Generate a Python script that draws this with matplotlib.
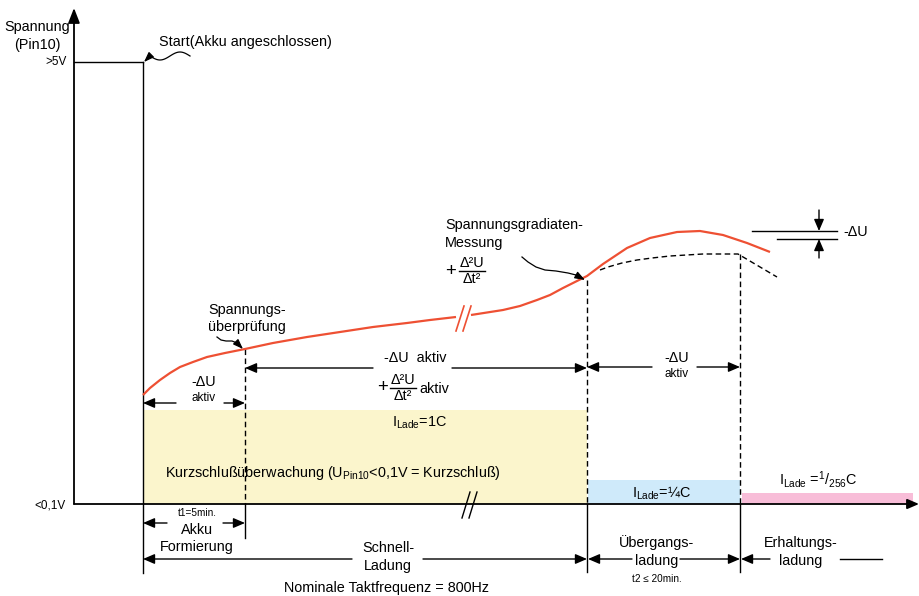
import matplotlib
matplotlib.use("Agg")
import matplotlib.pyplot as plt
import numpy as np

plt.rcParams['font.family'] = ['Liberation Sans', 'DejaVu Sans']
plt.rcParams['mathtext.fontset'] = 'custom'
plt.rcParams['mathtext.rm'] = 'Liberation Sans'
plt.rcParams['mathtext.it'] = 'Liberation Sans:italic'
plt.rcParams['mathtext.bf'] = 'Liberation Sans:bold'

# ---- data (diagram coordinates, x to the right, y downward) ----
# phase boundaries (time axis)
t_start, t_form, t_fast, t_trans, t_end = 143, 245, 587, 740, 913
axis_x0, axis_y0 = 74, 504
level_5v = 62

# charging voltage curve (red), split by a break mark
curve1_x = [143, 150, 160, 170, 180, 193, 207, 225, 245, 273, 307, 340, 373, 407, 430, 456]
curve1_y = [395, 388, 380, 373, 367, 362, 357, 353, 349, 343, 337, 332, 327, 323, 320, 317]
curve2_x = [471, 503, 520, 537, 550, 563, 575, 587, 603, 627, 650, 677, 700, 723, 747, 770]
curve2_y = [315, 310, 306, 300, 295, 288, 282, 276, 264, 248, 238, 232, 231, 235, 243, 252]
# dashed comparison curve
dash_x = [600, 608, 622, 637, 652, 670, 703, 738, 777]
dash_y = [270, 267, 263, 260, 258, 256, 254, 254, 277]

# current bands: (x0, x1, top)
band_fast = (t_start, t_fast, 410)
band_trans = (t_fast + 1, t_trans, 480)
band_keep = (t_trans + 2, t_end, 493)
band_colors = ['#fbf5cc', '#cfeafa', '#f8bdd8']

RED = '#ee5033'

fig = plt.figure(figsize=(9.2, 5.96), dpi=100)
ax = fig.add_axes([0, 0, 1, 1])
ax.set_xlim(0, 920)
ax.set_ylim(596, 0)
ax.axis('off')

# bands
for (x0, x1, top), c in zip([band_fast, band_trans, band_keep], band_colors):
    ax.fill_between([x0, x1], [top, top], [axis_y0, axis_y0], color=c, lw=0, zorder=1)

AH = dict(arrowstyle='-|>,head_length=0.7,head_width=0.3', color='k', lw=1.0,
          mutation_scale=10, shrinkA=0, shrinkB=0)

def arr(x0, y0, x1, y1, **kw):
    p = dict(AH)
    p.update(kw)
    ax.annotate('', xy=(x1, y1), xytext=(x0, y0), arrowprops=p, zorder=5)

# axes
arr(axis_x0, axis_y0, axis_x0, 8, lw=1.3, arrowstyle='-|>,head_length=0.9,head_width=0.35')
arr(axis_x0, axis_y0, 919, axis_y0, lw=1.3)

# start level
ax.plot([axis_x0, t_start], [level_5v, level_5v], color='k', lw=1.0, zorder=3)
ax.plot([t_start, t_start], [level_5v, 573], color='k', lw=1.0, zorder=3)

DASH = (0, (4, 2.5))
ax.plot([t_form, t_form], [349, axis_y0], color='k', lw=1.0, ls=DASH, zorder=3)
ax.plot([t_form, t_form], [axis_y0, 538], color='k', lw=1.0, zorder=3)
ax.plot([t_fast, t_fast], [280, axis_y0], color='k', lw=1.0, ls=DASH, zorder=3)
ax.plot([t_fast, t_fast], [axis_y0, 572], color='k', lw=1.0, zorder=3)
ax.plot([t_trans, t_trans], [254, axis_y0], color='k', lw=1.0, ls=DASH, zorder=3)
ax.plot([t_trans, t_trans], [axis_y0, 572], color='k', lw=1.0, zorder=3)

# curves
ax.plot(curve1_x, curve1_y, color=RED, lw=1.6, zorder=4, solid_capstyle='butt',
        solid_joinstyle='round')
ax.plot(curve2_x, curve2_y, color=RED, lw=1.6, zorder=4, solid_capstyle='butt',
        solid_joinstyle='round')
ax.plot(dash_x, dash_y, color='k', lw=1.0, ls=DASH, zorder=4)

# break marks
for dx in (0, 7):
    ax.plot([456 + dx, 464 + dx], [331, 306], color=RED, lw=1.2, zorder=4)
    ax.plot([462 + dx, 470 + dx], [518, 492], color='k', lw=1.0, zorder=4)

# Delta U indicator
ax.plot([752, 837], [231, 231], color='k', lw=1.0)
ax.plot([777, 837], [239, 239], color='k', lw=1.0)
arr(819, 210, 819, 231)
arr(819, 258, 819, 239)

FS = 10.4
FSS = 8.5
FST = 7.2

def txt(x, y, s, ha='center', fs=FS, **kw):
    ax.text(x, y, s, ha=ha, va='center', fontsize=fs, color='k', zorder=6, **kw)

txt(843, 232, '-ΔU', ha='left')

# axis labels
txt(70, 27, 'Spannung', ha='right')
txt(61, 45, '(Pin10)', ha='right')
txt(67, 62, '>5V', ha='right', fs=FSS)
txt(66, 506, '<0,1V', ha='right', fs=FSS)

def wavy(xs, ys):
    ax.plot(xs[:-1], ys[:-1], color='k', lw=0.9, zorder=5)
    arr(xs[-2], ys[-2], xs[-1], ys[-1],
        arrowstyle='-|>,head_length=0.6,head_width=0.22', lw=0.9)

# start annotation
txt(159, 42, 'Start(Akku angeschlossen)', ha='left')
sx = np.linspace(190, 150, 30)
sy = 56 + 4 * np.sin((sx - 190) / 40 * 2 * np.pi)
wavy(list(sx) + [144], list(sy) + [62])

# gradient measurement
txt(445, 225, 'Spannungsgradiaten-', ha='left')
txt(445, 243, 'Messung', ha='left')

def frac(xc, y, plus_x, suffix_x=None, fs=FS):
    txt(plus_x, y, '+', fs=fs + 3)
    txt(xc, y - 8, 'Δ²U', fs=fs)
    txt(xc, y + 8, 'Δt²', fs=fs)
    ax.plot([xc - 13, xc + 13], [y, y], color='k', lw=1.0, zorder=6)
    if suffix_x:
        txt(suffix_x, y + 1, 'aktiv', ha='left', fs=fs)

frac(472, 271, 451)
gx = [522, 528, 536, 545, 556, 568, 576, 585]
gy = [257, 262, 267, 270, 271, 273, 275, 280]
wavy(gx, gy)

# voltage check
txt(208, 310, 'Spannungs-', ha='left')
txt(208, 327, 'überprüfung', ha='left')
vx = [217, 221, 226, 232, 237, 243]
vy = [337, 340, 341, 341, 343, 349]
wavy(vx, vy)

# -dU aktiv rows
arr(176, 403, t_start, 403)
arr(224, 403, t_form, 403)
txt(204, 382, '-ΔU')
txt(204, 398, 'aktiv', fs=FSS)

arr(373, 368, t_form, 368)
arr(452, 368, t_fast, 368)
txt(415, 358, '-ΔU  aktiv')
frac(403, 388, 383, suffix_x=419)

arr(652, 367, t_fast, 367)
arr(697, 367, t_trans, 367)
txt(677, 358, '-ΔU')
txt(677, 374, 'aktiv', fs=FSS)

# band labels
txt(420, 423, r'I$_{\mathrm{Lade}}$=1C')
txt(165, 473, r'Kurzschlußüberwachung (U$_{\mathrm{Pin10}}$<0,1V = Kurzschluß)', ha='left')
txt(662, 493, r'I$_{\mathrm{Lade}}$=¼C')
txt(818, 480, r'I$_{\mathrm{Lade}}$ =$^{1}/_{256}$C')

# bottom phase rows
txt(197, 513, 't1=5min.', fs=FST)
arr(167, 523, t_start, 523)
arr(223, 523, t_form, 523)
txt(197, 530, 'Akku')
txt(197, 547, 'Formierung')

arr(352, 559, t_start, 559)
arr(423, 559, t_fast, 559)
txt(388, 548, 'Schnell-')
txt(388, 566, 'Ladung')

arr(632, 559, t_fast + 1, 559)
arr(680, 559, t_trans, 559)
txt(657, 543, 'Übergangs-')
txt(657, 561, 'ladung')
txt(657, 579, 't2 ≤ 20min.', fs=FST)

arr(770, 559, t_trans + 1, 559)
ax.plot([840, 882], [559, 559], color='k', lw=1.0)
txt(801, 543, 'Erhaltungs-')
txt(801, 561, 'ladung')

txt(387, 588, 'Nominale Taktfrequenz = 800Hz')

fig.savefig('out.png', dpi=100)
